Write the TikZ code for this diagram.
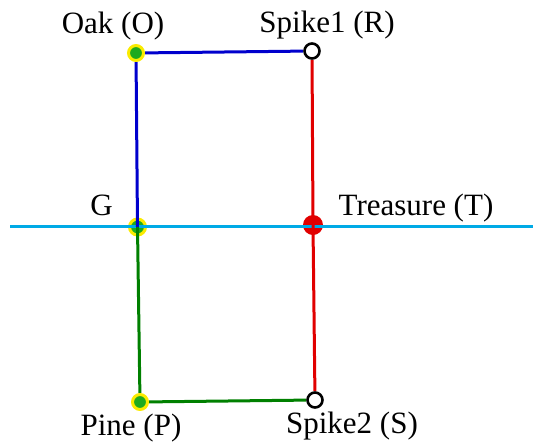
\documentclass[tikz,border=0pt]{standalone}
\usepackage{fontspec}
\setmainfont{Liberation Serif}
\newfontfamily\maplabelfont{Liberation Serif}
\definecolor{oakblue}{RGB}{0,0,205}
\definecolor{pinegreen}{RGB}{0,128,0}
\definecolor{spikered}{RGB}{225,0,0}
\definecolor{groundcyan}{RGB}{0,170,230}
\definecolor{treegreen}{RGB}{30,170,30}
\definecolor{treeyellow}{RGB}{250,235,0}
\pgfdeclarelayer{background}
\pgfsetlayers{background,main}
\begin{document}
\begin{tikzpicture}[
  x=1pt,
  y=-1pt,
  line cap=round,
  line join=round,
  tree dot/.style={circle, fill=treegreen, draw=treeyellow, line width=3pt,
    inner sep=0pt, minimum size=15pt},
  spike dot/.style={circle, fill=white, draw=black, line width=2.6pt,
    inner sep=0pt, minimum size=15pt},
  treasure dot/.style={circle, fill=spikered, inner sep=0pt, minimum size=20pt},
  map label/.style={anchor=base, inner sep=0pt,
    font=\maplabelfont\fontsize{31}{35}\selectfont},
  map line/.style={line width=3pt}
]
  \useasboundingbox (0,0) rectangle (533,445);

  % Trees and spikes, drawn on top of their lines.
  \node[tree dot] (O) at (136,53) {};
  \node[spike dot] (R) at (312,51) {};
  \node[tree dot] (P) at (140,402) {};
  \node[spike dot] (S) at (315,400) {};

  \node[map label] (Olabel) at (113,33) {Oak (O)};
  \node[map label] (Rlabel) at (327,32) {Spike1 (R)};
  \node[map label] (Glabel) at (101.5,215) {G};
  \node[map label] (Tlabel) at (416,215) {Treasure (T)};
  \node[map label] (Plabel) at (131,435) {Pine (P)};
  \node[map label] (Slabel) at (352,433) {Spike2 (S)};

  \begin{pgfonlayer}{background}
    % G and T sit under the lines that cross them.
    \node[tree dot, minimum size=16pt] (G) at (137.5,227) {};
    \node[treasure dot] (T) at (313,225) {};

    \coordinate (west) at (10,226.5);
    \coordinate (east) at (533,226.5);
    \draw[map line, groundcyan, line cap=butt] (west) -- (east);

    \draw[map line, oakblue] (R) -- (O) -- (G.center);
    \draw[map line, pinegreen] (G.center) -- (P) -- (S);
    \draw[map line, spikered] (R) -- (T.center) -- (S);
  \end{pgfonlayer}
\end{tikzpicture}
\end{document}
